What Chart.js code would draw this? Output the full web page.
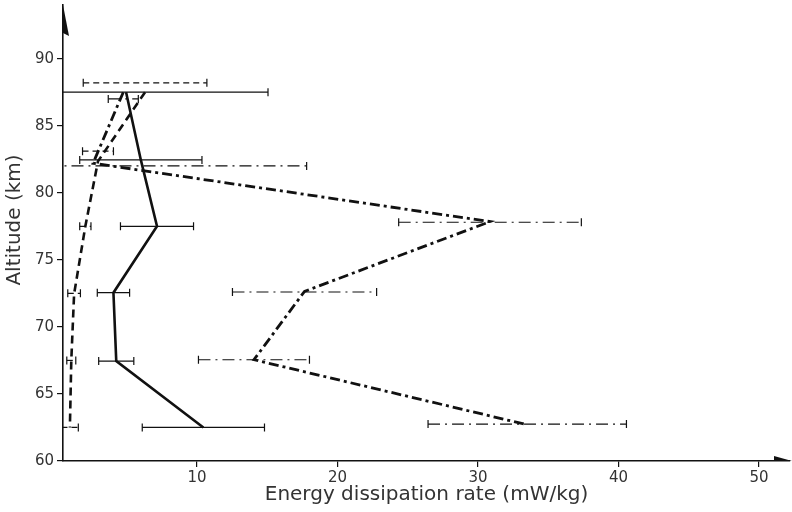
<!DOCTYPE html>
<html>
<head>
<meta charset="utf-8">
<script src="https://cdn.jsdelivr.net/npm/chart.js@4"></script>
<style>
    html, body { margin: 0; padding: 0; background: #fff; }
    #wrap { width: 792px; height: 512px; }
</style>
</head>
<body>
<div id="wrap"><canvas id="dissipationChart"></canvas></div>
<script>
// Profile 1 (solid line)
var solidAltitude = [87.5, 82.45, 77.5, 72.55, 67.45, 62.5];
var solidRate = [4.95, 6.0, 7.15, 4.05, 4.25, 10.45];
var solidError = [10.1, 4.35, 2.6, 1.15, 1.25, 4.35];
var solidBarAltitude = [87.5, 82.45, 77.5, 72.55, 67.45, 62.5];

// Profile 2 (dashed line)
var dashedAltitude = [87.5, 82.35, 77.5, 72.45, 67.5, 62.5];
var dashedRate = [6.3, 2.95, 2.05, 1.25, 1.05, 0.95];
var dashedError = [4.4, 1.1, 0.4, 0.45, 0.32, 0.6];
var dashedBarAltitude = [88.2, 83.1, 77.5, 72.5, 67.5, 62.5];

// Profile 3 (dash-dot line)
var dotDashAltitude = [87.5, 82.2, 77.85, 72.65, 67.55, 62.7];
var dotDashRate = [4.75, 2.6, 30.85, 17.65, 14.05, 33.5];
var dotDashError = [1.07, 15.2, 6.5, 5.13, 3.95, 7.06];
var dotDashBarAltitude = [87.0, 82.0, 77.8, 72.6, 67.55, 62.75];

var rateTicks = [10, 20, 30, 40, 50];
var altitudeTicks = [60, 65, 70, 75, 80, 85, 90];

var ink = '#111';
var textColor = '#333';
var fontFamily = "'DejaVu Sans', sans-serif";

function toPoints(rates, altitudes) {
    var pts = [];
    for (var i = 0; i < rates.length; i++) {
        pts.push({ x: rates[i], y: altitudes[i] });
    }
    return pts;
}

// horizontal error bars with end caps, drawn in each profile's own line style
const errorBars = {
    id: 'errorBars',
    afterDatasetsDraw(chart) {
        var ctx = chart.ctx;
        var xs = chart.scales.x;
        var ys = chart.scales.y;
        var area = chart.chartArea;
        ctx.save();
        ctx.beginPath();
        ctx.rect(area.left, area.top, area.right - area.left, area.bottom - area.top);
        ctx.clip();
        ctx.strokeStyle = ink;
        ctx.lineWidth = 1.2;
        chart.data.datasets.forEach(function(ds) {
            ds.data.forEach(function(p, i) {
                var y = ys.getPixelForValue(ds.barAltitude[i]);
                var x1 = xs.getPixelForValue(p.x - ds.error[i]);
                var x2 = xs.getPixelForValue(p.x + ds.error[i]);
                ctx.setLineDash(ds.barDash);
                ctx.beginPath();
                ctx.moveTo(x1, y);
                ctx.lineTo(x2, y);
                ctx.stroke();
                ctx.setLineDash([]);
                ctx.beginPath();
                ctx.moveTo(x1, y - 4);
                ctx.lineTo(x1, y + 4);
                ctx.moveTo(x2, y - 4);
                ctx.lineTo(x2, y + 4);
                ctx.stroke();
            });
        });
        ctx.restore();
    }
};

// arrow heads on both axes and the two axis titles
const axisDecor = {
    id: 'axisDecor',
    afterDraw(chart) {
        var ctx = chart.ctx;
        var area = chart.chartArea;
        ctx.save();
        ctx.fillStyle = ink;
        ctx.beginPath();
        ctx.moveTo(area.left, area.top);
        ctx.lineTo(area.left + 6, area.top + 31);
        ctx.lineTo(area.left, area.top + 28);
        ctx.closePath();
        ctx.fill();
        ctx.beginPath();
        ctx.moveTo(area.right + 2, area.bottom);
        ctx.lineTo(area.right - 16, area.bottom - 5);
        ctx.lineTo(area.right - 16, area.bottom);
        ctx.closePath();
        ctx.fill();

        ctx.fillStyle = textColor;
        ctx.font = '20px ' + fontFamily;
        ctx.textAlign = 'center';
        ctx.textBaseline = 'middle';
        ctx.fillText('Energy dissipation rate (mW/kg)', (area.left + area.right) / 2, 495);
        ctx.translate(15, 220);
        ctx.rotate(-Math.PI / 2);
        ctx.fillText('Altitude (km)', 0, 0);
        ctx.restore();
    }
};

const chartData = {
    datasets: [{
        label: 'solid',
        data: toPoints(solidRate, solidAltitude),
        error: solidError,
        barAltitude: solidBarAltitude,
        barDash: [],
        borderColor: ink,
        borderWidth: 2.6,
        pointRadius: 0,
        tension: 0
    }, {
        label: 'dashed',
        data: toPoints(dashedRate, dashedAltitude),
        error: dashedError,
        barAltitude: dashedBarAltitude,
        barDash: [6, 4],
        borderColor: ink,
        borderWidth: 2.6,
        borderDash: [8, 5],
        pointRadius: 0,
        tension: 0
    }, {
        label: 'dash-dot',
        data: toPoints(dotDashRate, dotDashAltitude),
        error: dotDashError,
        barAltitude: dotDashBarAltitude,
        barDash: [12, 5, 2, 5],
        borderColor: ink,
        borderWidth: 2.8,
        borderDash: [10, 4, 3, 4],
        pointRadius: 0,
        tension: 0
    }]
};

const config = {
    type: 'line',
    data: chartData,
    plugins: [errorBars, axisDecor],
    options: {
        responsive: true,
        maintainAspectRatio: false,
        animation: false,
        layout: { padding: { top: 5, right: 2, left: 0, bottom: 0 } },
        plugins: {
            legend: { display: false },
            tooltip: { enabled: false }
        },
        scales: {
            x: {
                type: 'linear',
                min: 0.46,
                max: 52.2,
                afterBuildTicks: function(s) {
                    s.ticks = rateTicks.map(function(v) { return { value: v }; });
                },
                afterFit: function(s) { s.height = 51; },
                grid: { drawOnChartArea: false, drawTicks: true, tickLength: 6, color: ink, lineWidth: 1.2 },
                border: { display: true, color: ink, width: 1.6 },
                ticks: { color: textColor, font: { family: fontFamily, size: 15 }, padding: 2, maxRotation: 0 }
            },
            y: {
                type: 'linear',
                min: 60,
                max: 94,
                afterBuildTicks: function(s) {
                    s.ticks = altitudeTicks.map(function(v) { return { value: v }; });
                },
                afterFit: function(s) {
                    s.width = 63;
                    s.paddingTop = 0;
                    s.paddingBottom = 0;
                },
                grid: { drawOnChartArea: false, drawTicks: true, tickLength: 6, color: ink, lineWidth: 1.2 },
                border: { display: true, color: ink, width: 1.6 },
                ticks: { color: textColor, font: { family: fontFamily, size: 15 }, padding: 3 }
            }
        }
    }
};

new Chart(document.getElementById('dissipationChart'), config);
</script>
</body>
</html>
